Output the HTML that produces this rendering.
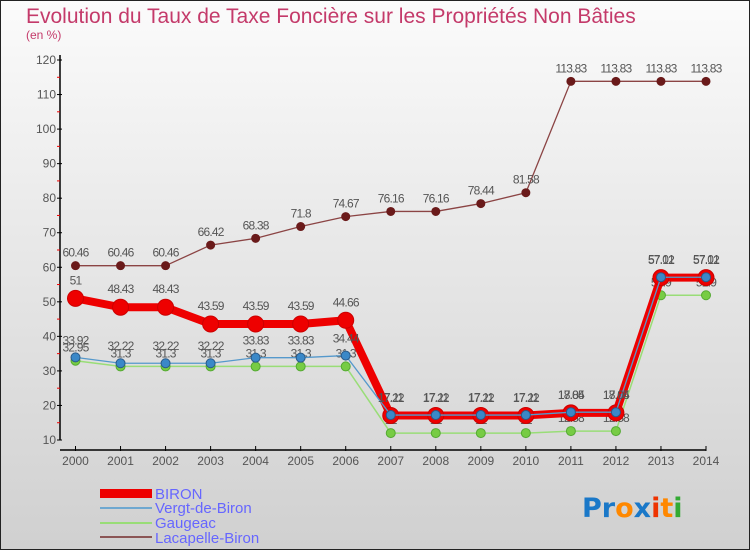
<!DOCTYPE html>
<html><head><meta charset="utf-8"><style>
body{margin:0;width:750px;height:550px;overflow:hidden;font-family:"Liberation Sans",sans-serif}
svg{display:block}
</style></head><body>
<svg id="chart" width="750" height="550" xmlns="http://www.w3.org/2000/svg">
<defs><linearGradient id="bg" x1="0" y1="0" x2="0" y2="1"><stop offset="0" stop-color="#fbfbfb"/><stop offset="1" stop-color="#d0d0d0"/></linearGradient></defs>
<rect x="0.5" y="0.5" width="749" height="549" fill="url(#bg)" stroke="#222"/>
<text x="26" y="23" font-size="21" fill="#c43a6a">Evolution du Taux de Taxe Foncière sur les Propriétés Non Bâties</text>
<text x="26" y="39" font-size="12" fill="#c43a6a">(en %)</text>
<g id="axes"></g>
<g id="series"></g>
<g id="legend" font-size="15" fill="#6666ff">
<rect x="100" y="489" width="52" height="9" fill="#ee0000"/>
<text x="155" y="499" fill="#6666ff">BIRON</text>
<rect x="100" y="507" width="52" height="2" fill="#6fa8d0"/>
<text x="155" y="513" fill="#6666ff">Vergt-de-Biron</text>
<rect x="100" y="522" width="52" height="2" fill="#99dd77"/>
<text x="155" y="528" fill="#6666ff">Gaugeac</text>
<rect x="100" y="536" width="52" height="2" fill="#8b5555"/>
<text x="155" y="543" fill="#6666ff">Lacapelle-Biron</text>
</g>
<g font-size="27" font-family="'DejaVu Sans',sans-serif" font-weight="bold">
<text x="582" y="517"><tspan fill="#1a78c8">Pr</tspan><tspan fill="#ff8800">o</tspan><tspan fill="#1a78c8">x</tspan><tspan fill="#ee3300">i</tspan><tspan fill="#ff8800">t</tspan><tspan fill="#33aa33">i</tspan></text>
</g>
</svg>
<script>
const years=[2000,2001,2002,2003,2004,2005,2006,2007,2008,2009,2010,2011,2012,2013,2014];
const yTicks=[10,20,30,40,50,60,70,80,90,100,110,120];
const biron=[51,48.43,48.43,43.59,43.59,43.59,44.66,17.11,17.11,17.11,17.11,17.84,17.84,57.01,57.01];
const vergt=[33.92,32.22,32.22,32.22,33.83,33.83,34.44,17.22,17.22,17.22,17.22,18.05,18.05,57.12,57.12];
const gaugeac=[32.95,31.3,31.3,31.3,31.3,31.3,31.3,12,12,12,12,12.58,12.58,51.9,51.9];
const lacapelle=[60.46,60.46,60.46,66.42,68.38,71.8,74.67,76.16,76.16,78.44,81.58,113.83,113.83,113.83,113.83];
const NS='http://www.w3.org/2000/svg';
const X=i=>75.5+i*(706-75.5)/(years.length-1);
const Y=v=>440-(v-10)*(380/110);
function mk(tag,attrs,parent){const e=document.createElementNS(NS,tag);for(const k in attrs)e.setAttribute(k,attrs[k]);parent.appendChild(e);return e;}
const ax=document.getElementById('axes');
let l=mk('line',{x1:60,y1:55,x2:60,y2:440,stroke:'#000','stroke-width':1.5},ax);


l=mk('line',{x1:60,y1:450,x2:706,y2:450,stroke:'#000','stroke-width':1.5},ax);


yTicks.forEach((t,i)=>{
 const y=Y(t);
 mk('line',{x1:57,y1:y,x2:62,y2:y,stroke:'#000'},ax);
 if(i<yTicks.length-1) mk('line',{x1:57,y1:Y(t+5),x2:60,y2:Y(t+5),stroke:'#e00'},ax);
 const tx=mk('text',{x:56,y:y+4,'font-size':12,fill:'#555','text-anchor':'end'},ax);tx.textContent=t;
 
 
});
years.forEach((yr,i)=>{
 const x=X(i);
 mk('line',{x1:x,y1:446,x2:x,y2:451,stroke:'#000'},ax);
 const tx=mk('text',{x:x,y:465,'font-size':12,fill:'#555','text-anchor':'middle'},ax);tx.textContent=yr;
 
 
});
const sg=document.getElementById('series');
function draw(name,vals,color,w,r,dot,dotStroke,labelDy){
 const g=mk('g',{},sg);
 
 
 const p=mk('polyline',{points:vals.map((v,i)=>X(i)+','+Y(v)).join(' '),fill:'none',stroke:color,'stroke-width':w,'stroke-linejoin':'round'},g);
 
 
 vals.forEach((v,i)=>{
  const c=mk('circle',{cx:X(i),cy:Y(v),r:r,fill:dot,stroke:dotStroke,'stroke-width':1},g);
  
  
  const t=mk('text',{x:X(i),y:Y(v)+labelDy,'font-size':12,fill:'#555','text-anchor':'middle','letter-spacing':'-0.8'},g);
  t.textContent=v;
  
  
 });
}
draw('series-lacapelle-biron',lacapelle,'#8b4444',1.3,4,'#6a1a1a','#6a1a1a',-9);
draw('series-gaugeac',gaugeac,'#99dd77',1.5,4.5,'#77cc44','#55aa33',-9);
draw('series-biron',biron,'#ee0000',8,8,'#ee0000','#cc0000',-14);
draw('series-vergt-de-biron',vergt,'#5599cc',1.3,4.5,'#3a88c8','#2a5a88',-13);
</script>
</body></html>
